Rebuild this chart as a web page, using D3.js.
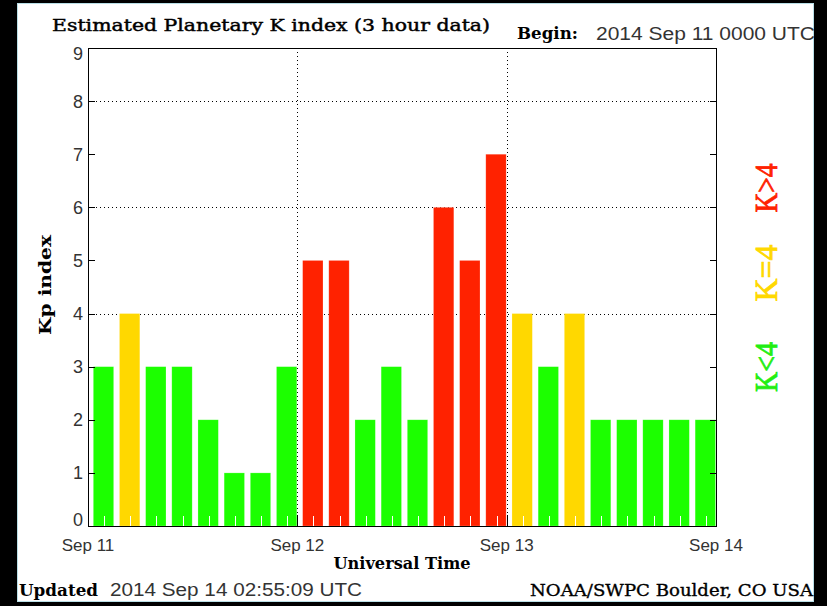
<!DOCTYPE html>
<html>
<head>
<meta charset="utf-8">
<script src="https://cdn.jsdelivr.net/npm/d3@7"></script>
<style>
  html, body { margin: 0; padding: 0; background: #000; }
  svg { display: block; }
</style>
</head>
<body>
<div id="chart"></div>
<script>
// Kp values, 3-hour intervals starting 2014 Sep 11 00 UTC
var kpValues = [3, 4, 3, 3, 2, 1, 1, 3,
                5, 5, 2, 3, 2, 6, 5, 7,
                4, 3, 4, 2, 2, 2, 2, 2];
var dayLabels = ["Sep 11", "Sep 12", "Sep 13", "Sep 14"];
var yTicks = [0, 1, 2, 3, 4, 5, 6, 7, 8, 9];
var gridLevels = [4, 6, 8];
var legendLabels = ["K>4", "K=4", "K<4"];

var W = 827, H = 606;
var green = "#1cff00", yellow = "#ffd800", red = "#ff2200";

function kpColor(k) {
  if (k < 4) return green;
  if (k == 4) return yellow;
  return red;
}

var svg = d3.select("#chart")
  .append("svg")
  .attr("width", W)
  .attr("height", H);

svg.append("rect").attr("width", W).attr("height", H).attr("fill", "#000");
svg.append("rect")
  .attr("x", 17.5).attr("y", 3.5)
  .attr("width", 796).attr("height", 598)
  .attr("fill", "#fff")
  .attr("stroke", "#b9dfe6");

var start = Date.UTC(2014, 8, 11);
var hour = 3600 * 1000;
var days = dayLabels.map(function(d, i) { return new Date(start + i * 24 * hour); });

var x = d3.scaleUtc()
  .domain([days[0], days[days.length - 1]])
  .range([88, 716]);
var y = d3.scaleLinear()
  .domain([0, 9])
  .range([526, 48]);

var bars = kpValues.map(function(k, i) {
  return { k: k, t0: new Date(start + i * 3 * hour), t1: new Date(start + (i + 1) * 3 * hour) };
});

// gridlines (dotted)
svg.selectAll(".hgrid")
  .data(gridLevels)
  .enter()
  .append("line")
    .attr("x1", x.range()[0]).attr("x2", x.range()[1])
    .attr("y1", function(d) { return Math.round(y(d)) + 0.5; })
    .attr("y2", function(d) { return Math.round(y(d)) + 0.5; })
    .attr("stroke", "#000")
    .attr("stroke-dasharray", "1,3");

svg.selectAll(".vgrid")
  .data(days.slice(1, -1))
  .enter()
  .append("line")
    .attr("x1", function(d) { return Math.round(x(d)) + 0.5; })
    .attr("x2", function(d) { return Math.round(x(d)) + 0.5; })
    .attr("y1", y(9)).attr("y2", y(0))
    .attr("stroke", "#000")
    .attr("stroke-dasharray", "1,3");

// bars
svg.selectAll(".bar")
  .data(bars)
  .enter()
  .append("rect")
    .attr("x", function(d) { return x(d.t0) + 5.3; })
    .attr("y", function(d) { return y(d.k); })
    .attr("width", function(d) { return x(d.t1) - x(d.t0) - 5.8; })
    .attr("height", function(d) { return y(0) - y(d.k); })
    .attr("fill", function(d) { return kpColor(d.k); })
    .attr("stroke", "#fff")
    .attr("stroke-opacity", 0.35)
    .attr("stroke-width", 0.6);

// small white ticks inside bars
svg.selectAll(".btick")
  .data(bars)
  .enter()
  .append("line")
    .attr("x1", function(d) { return Math.round((x(d.t0) + x(d.t1)) / 2 + 3) + 0.5; })
    .attr("x2", function(d) { return Math.round((x(d.t0) + x(d.t1)) / 2 + 3) + 0.5; })
    .attr("y1", y(0) - 10).attr("y2", y(0))
    .attr("stroke", "#fff");

// plot frame
svg.append("rect")
  .attr("x", 88.5).attr("y", 48.5)
  .attr("width", 628).attr("height", 478)
  .attr("fill", "none")
  .attr("stroke", "#000");

// y ticks both sides
svg.selectAll(".ytl")
  .data(yTicks)
  .enter()
  .append("line")
    .attr("x1", 88).attr("x2", 95)
    .attr("y1", function(d) { return Math.round(y(d)) + 0.5; })
    .attr("y2", function(d) { return Math.round(y(d)) + 0.5; })
    .attr("stroke", "#000");
svg.selectAll(".ytr")
  .data(yTicks)
  .enter()
  .append("line")
    .attr("x1", 710).attr("x2", 717)
    .attr("y1", function(d) { return Math.round(y(d)) + 0.5; })
    .attr("y2", function(d) { return Math.round(y(d)) + 0.5; })
    .attr("stroke", "#000");

// x major ticks
svg.selectAll(".xt")
  .data(days)
  .enter()
  .append("line")
    .attr("x1", function(d) { return Math.round(x(d)) + 0.5; })
    .attr("x2", function(d) { return Math.round(x(d)) + 0.5; })
    .attr("y1", y(0) - 11).attr("y2", y(0))
    .attr("stroke", "#000");

var serif = "DejaVu Serif, Liberation Serif, serif";
var sans = "Liberation Sans, Arial, sans-serif";
var sansFill = "#333";

// y labels
svg.selectAll(".ylab")
  .data(yTicks)
  .enter()
  .append("text")
    .attr("x", 83)
    .attr("y", function(d) { return Math.min(520, Math.max(54, y(d))); })
    .attr("dy", "0.36em")
    .attr("text-anchor", "end")
    .attr("font-family", sans)
    .attr("font-size", "18px")
    .attr("fill", sansFill)
    .text(function(d) { return d; });

// x labels
svg.selectAll(".xlab")
  .data(days)
  .enter()
  .append("text")
    .attr("x", function(d) { return x(d); })
    .attr("y", 551)
    .attr("text-anchor", "middle")
    .attr("font-family", sans)
    .attr("font-size", "17px")
    .attr("fill", sansFill)
    .text(function(d, i) { return dayLabels[i]; });

function addText(txt, px, py, opts) {
  var t = svg.append("text")
    .attr("x", px).attr("y", py)
    .attr("font-family", opts.family)
    .attr("font-size", opts.size)
    .attr("font-weight", opts.weight || "normal")
    .attr("fill", opts.fill || "#000")
    .attr("text-anchor", opts.anchor || "start")
    .text(txt);
  if (opts.len) t.attr("textLength", opts.len).attr("lengthAdjust", "spacingAndGlyphs");
  if (opts.transform) t.attr("transform", opts.transform);
  if (opts.stroke) t.attr("stroke", opts.fill || "#000").attr("stroke-width", opts.stroke);
  return t;
}

addText("Estimated Planetary K index (3 hour data)", 52, 31, { family: serif, size: "17px", len: 438, stroke: 0.45 });
addText("Begin:", 517, 39, { family: serif, size: "16px", weight: "bold", len: 61 });
addText("2014 Sep 11 0000 UTC", 596, 40, { family: sans, size: "18px", fill: sansFill, len: 219 });

addText("Kp index", 0, 0, { family: serif, size: "17px", weight: "bold", anchor: "middle", len: 100,
  transform: "translate(51,285) rotate(-90)" });
addText("Universal Time", 402, 569, { family: serif, size: "16px", weight: "bold", anchor: "middle", len: 137 });

addText("Updated", 19, 596, { family: serif, size: "17px", weight: "bold", len: 79 });
addText("2014 Sep 14 02:55:09 UTC", 110, 596, { family: sans, size: "18px", fill: sansFill, len: 252 });
addText("NOAA/SWPC Boulder, CO USA", 530, 596, { family: serif, size: "17px", len: 283, stroke: 0.35 });

// legend (rotated)
var legendColors = [red, yellow, "#22ee11"];
var legendY = [188, 273, 367];
var legendLen = [49, 57, 50];
svg.selectAll(".leg")
  .data(legendLabels)
  .enter()
  .append("text")
    .attr("transform", function(d, i) { return "translate(777," + legendY[i] + ") rotate(-90)"; })
    .attr("text-anchor", "middle")
    .attr("font-family", "Liberation Serif, serif")
    .attr("font-size", "31px")
    .attr("fill", function(d, i) { return legendColors[i]; })
    .attr("stroke", function(d, i) { return legendColors[i]; })
    .attr("stroke-width", 0.8)
    .attr("textLength", function(d, i) { return legendLen[i]; })
    .attr("lengthAdjust", "spacingAndGlyphs")
    .text(function(d) { return d; });
</script>
</body>
</html>
